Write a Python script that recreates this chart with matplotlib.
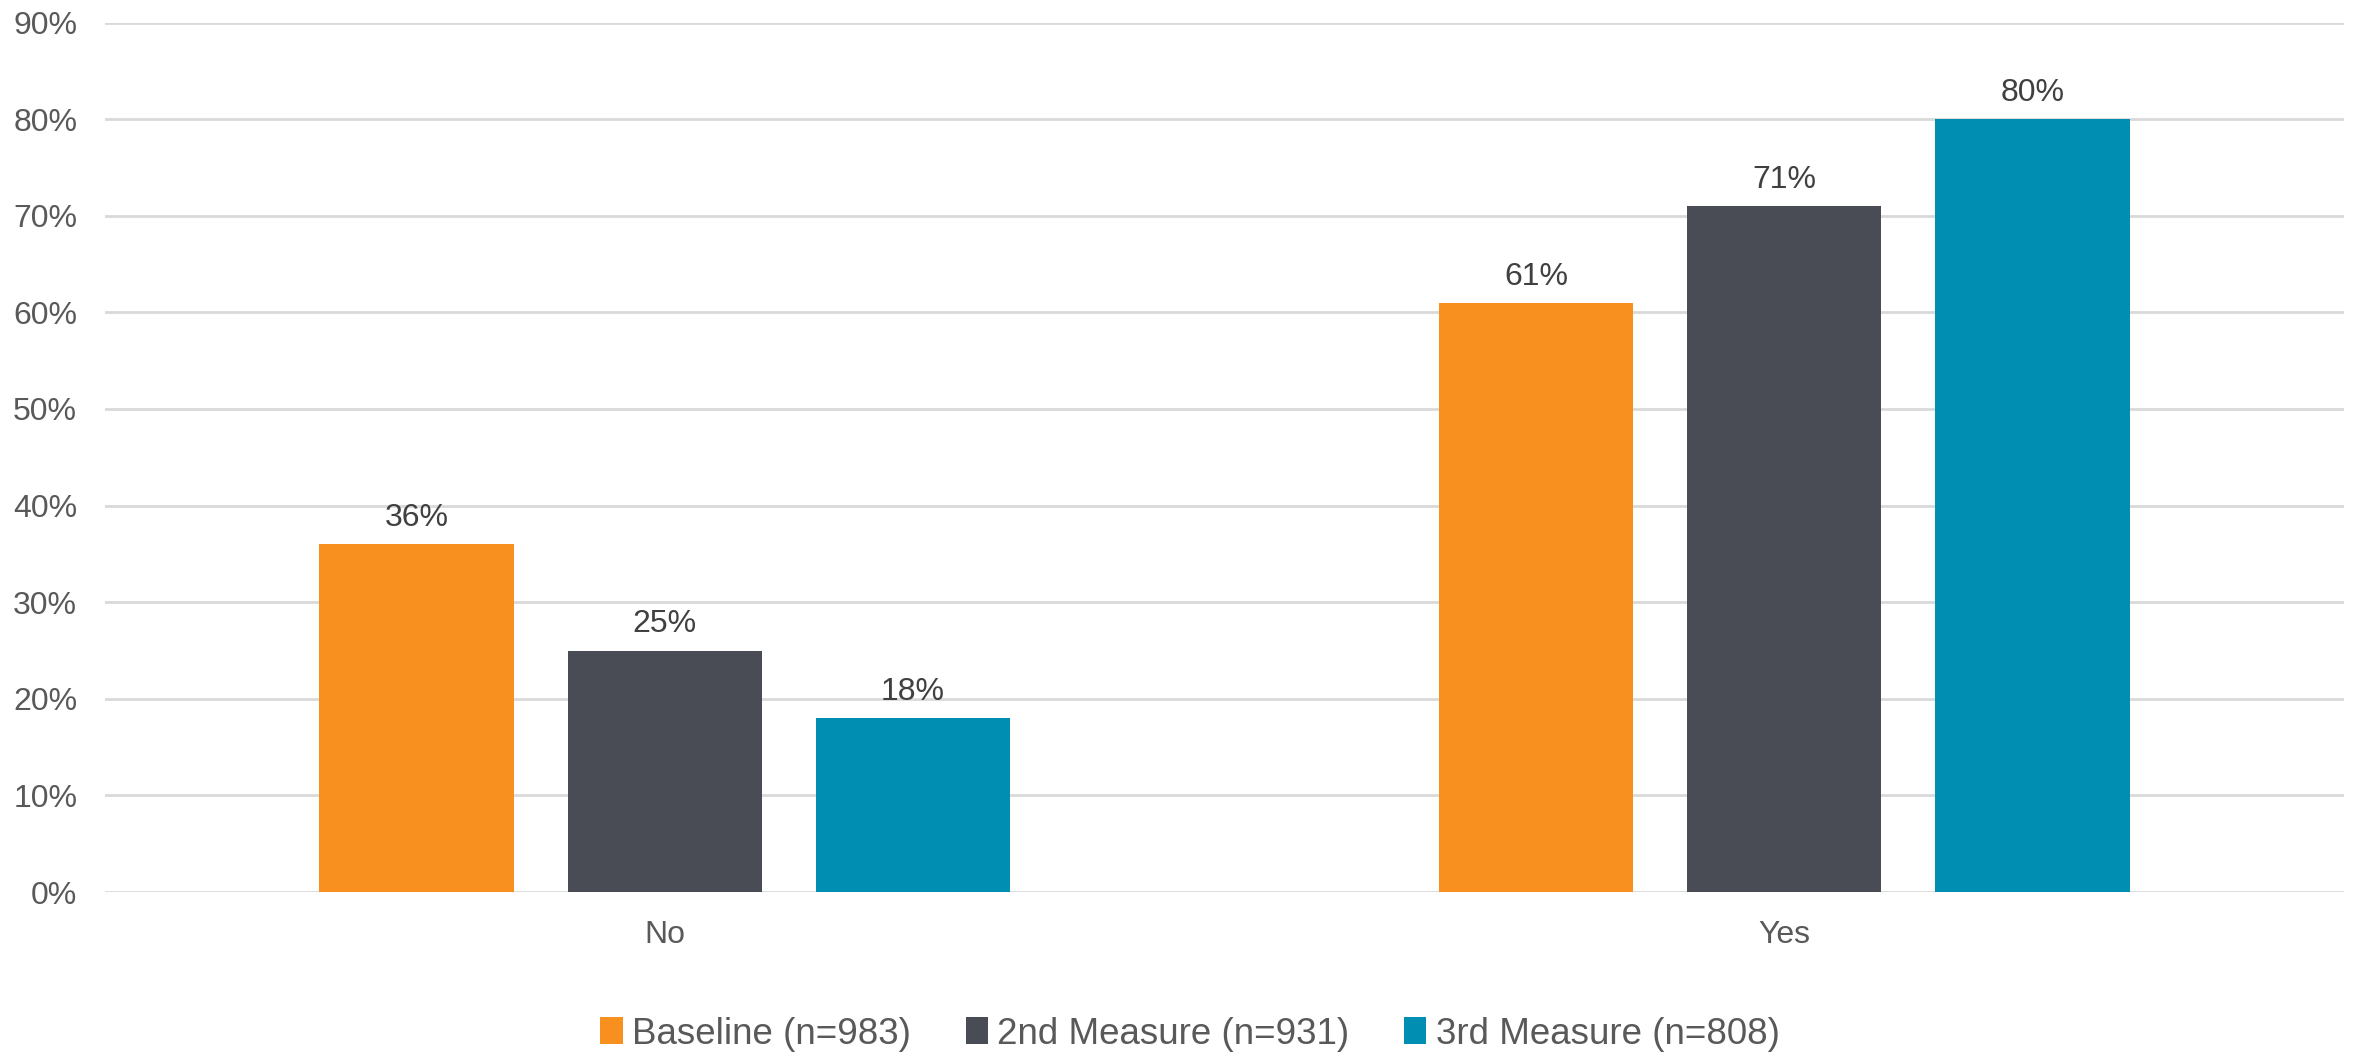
import matplotlib
matplotlib.use("Agg")
import matplotlib.pyplot as plt
from matplotlib.patches import Patch
import numpy as np

categories = ["No", "Yes"]
series_names = ["Baseline (n=983)", "2nd Measure (n=931)", "3rd Measure (n=808)"]
baseline = [36, 61]
second = [25, 71]
third = [18, 80]
colors = ["#F7901E", "#494C54", "#008FB3"]

plt.rcParams['font.family'] = ['Liberation Sans', 'DejaVu Sans']

fig = plt.figure(figsize=(23.59, 10.54), dpi=100)
ax = fig.add_axes([105/2359, 1-892/1054, (2344-105)/2359, (892-22.6)/1054])

x = np.arange(len(categories))
width = 0.1734
pitch = 0.2218
values = [baseline, second, third]
for i, (vals, c, name) in enumerate(zip(values, colors, series_names)):
    pos = x + (i - 1) * pitch
    bars = ax.bar(pos, vals, width=width, color=c, label=name, zorder=3)
    for b, v in zip(bars, vals):
        ax.annotate(f"{v}%", (b.get_x() + b.get_width()/2, v), xytext=(0, 8),
                    textcoords="offset points", ha="center", va="bottom",
                    fontsize=23, color="#404040")

ax.set_xlim(-0.5, 1.5)
ax.set_ylim(0, 90)
ax.set_yticks(np.arange(0, 91, 10))
ax.set_yticklabels([f"{t}%" for t in range(0, 91, 10)])
ax.set_xticks(x)
ax.set_xticklabels(categories)
ax.tick_params(axis='both', length=0, labelsize=23, labelcolor="#595959")
ax.tick_params(axis='y', pad=20)
ax.tick_params(axis='x', pad=20)
for s in ax.spines.values():
    s.set_visible(False)
ax.yaxis.grid(True, color="#D9D9D9", linewidth=2, zorder=0)
ax.set_axisbelow(True)

handles = [Patch(facecolor=c, edgecolor='none') for c in colors]
fig.legend(handles, series_names, loc="center", bbox_to_anchor=(1190/2359, 1-1034/1054),
           ncol=3, frameon=False, fontsize=26.5, labelcolor="#595959",
           handlelength=0.6, handleheight=0.75, handletextpad=0.25, columnspacing=1.5)

fig.savefig("out.png", dpi=100)
